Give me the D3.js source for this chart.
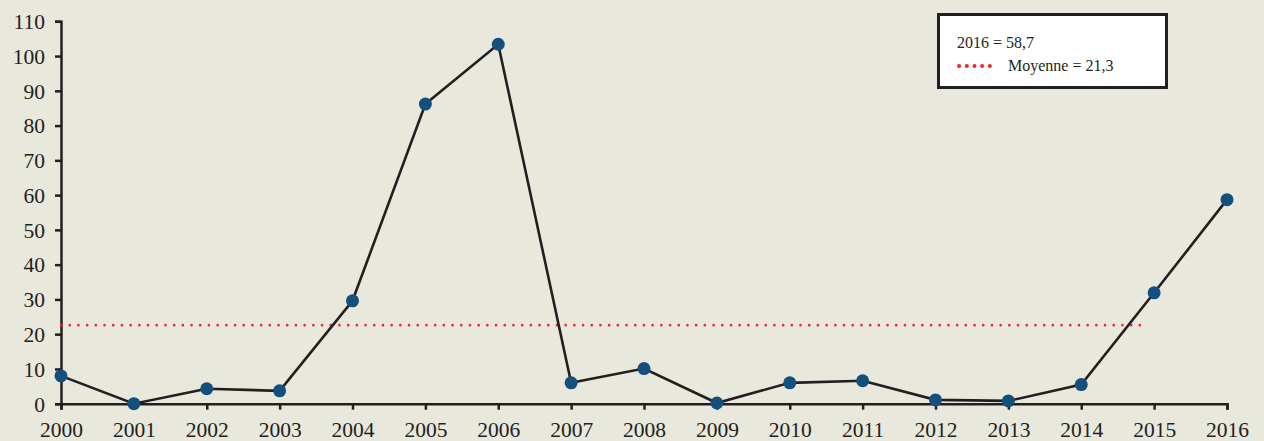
<!DOCTYPE html>
<html>
<head>
<meta charset="utf-8">
<script src="https://cdn.jsdelivr.net/npm/d3@7"></script>
<style>
  html, body { margin: 0; padding: 0; background: #e8e8dd; }
  svg { display: block; }
</style>
</head>
<body>
<script>
const years = [2000, 2001, 2002, 2003, 2004, 2005, 2006, 2007, 2008, 2009, 2010, 2011, 2012, 2013, 2014, 2015, 2016]
const values = [8.0, 0, 4.3, 3.7, 29.6, 86.2, 103.4, 6.0, 10.1, 0.2, 6.0, 6.6, 1.1, 0.8, 5.5, 31.9, 58.7]
const yTicks = [0, 10, 20, 30, 40, 50, 60, 70, 80, 90, 100, 110]
const meanLine = { value: 22.6, from: 2000, to: 2014.9 }
const legendTexts = ['2016 = 58,7', 'Moyenne = 21,3']

const w = 1264
const h = 441
const font = '"Liberation Serif", "Times New Roman", serif'

const svg = d3.select('body')
    .append('svg')
    .attr('width', w)
    .attr('height', h)

svg.append('rect')
    .attr('width', w)
    .attr('height', h)
    .attr('fill', '#e8e8dd')

const x = d3.scaleLinear()
    .domain([2000, 2016])
    .range([61, 1227])

const y = d3.scaleLinear()
    .domain([0, 110])
    .range([403.7, 21.3])

// axes
const xAxis = svg.append('g')
    .attr('transform', `translate(0, ${y(0)})`)
    .call(d3.axisBottom(x).tickValues(years).tickFormat(d3.format('d')).tickSize(6).tickSizeOuter(6))
const yAxis = svg.append('g')
    .attr('transform', `translate(${x(2000)}, 0)`)
    .call(d3.axisLeft(y).tickValues(yTicks).tickSize(6).tickSizeOuter(6))

;[xAxis, yAxis].forEach(a => {
    a.select('.domain').attr('stroke', '#231f20').attr('stroke-width', 2.5)
    a.selectAll('.tick line').attr('stroke', '#231f20').attr('stroke-width', 2.5)
    a.selectAll('text')
        .attr('fill', '#231f20')
        .style('font-family', font)
        .style('font-size', '21.5px')
})
xAxis.selectAll('text').attr('dy', null).attr('y', 33)
yAxis.selectAll('text').attr('x', -16).attr('dy', '0.34em')

// mean line
svg.append('line')
    .attr('x1', x(meanLine.from))
    .attr('x2', x(meanLine.to))
    .attr('y1', y(meanLine.value))
    .attr('y2', y(meanLine.value))
    .attr('stroke', '#ee2a2e')
    .attr('stroke-width', 2.6)
    .attr('stroke-linecap', 'round')
    .attr('stroke-dasharray', '0.1 8.6')

// series
const line = d3.line()
    .x((d, i) => x(years[i]))
    .y(d => y(d))

svg.append('path')
    .datum(values)
    .attr('d', line)
    .attr('fill', 'none')
    .attr('stroke', '#231f20')
    .attr('stroke-width', 2.6)

svg.append('g')
    .selectAll('circle')
    .data(values)
    .enter()
    .append('circle')
    .attr('cx', (d, i) => x(years[i]))
    .attr('cy', d => y(d))
    .attr('r', 6.5)
    .attr('fill', '#14507e')

// legend
const legend = svg.append('g')
legend.append('rect')
    .attr('x', 938.5)
    .attr('y', 14.5)
    .attr('width', 228)
    .attr('height', 73)
    .attr('fill', '#ffffff')
    .attr('stroke', '#231f20')
    .attr('stroke-width', 3)

legend.append('text')
    .attr('x', 957)
    .attr('y', 48)
    .attr('fill', '#231f20')
    .style('font-family', font)
    .style('font-size', '16px')
    .text(legendTexts[0])

legend.append('line')
    .attr('x1', 959)
    .attr('x2', 997)
    .attr('y1', 66)
    .attr('y2', 66)
    .attr('stroke', '#ee2a2e')
    .attr('stroke-width', 4)
    .attr('stroke-linecap', 'round')
    .attr('stroke-dasharray', '0.1 7.6')

legend.append('text')
    .attr('x', 1008)
    .attr('y', 71)
    .attr('fill', '#231f20')
    .style('font-family', font)
    .style('font-size', '16px')
    .text(legendTexts[1])
</script>
</body>
</html>
